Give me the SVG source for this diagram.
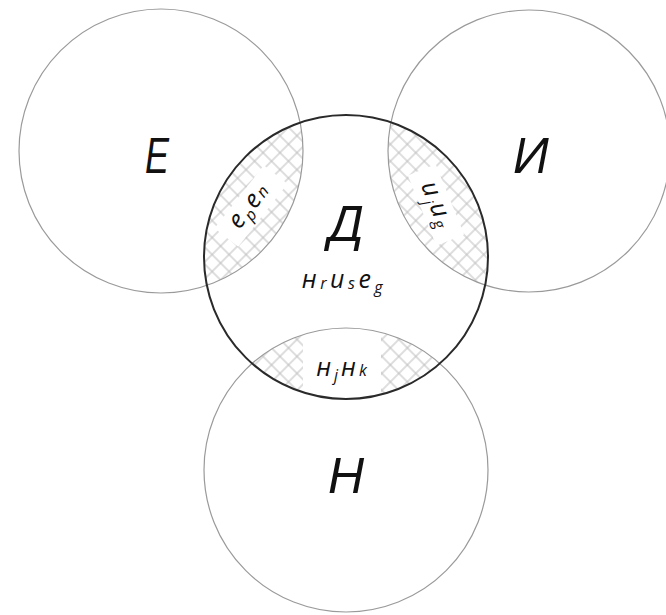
<svg xmlns="http://www.w3.org/2000/svg" width="666" height="615" viewBox="0 0 666 615">
<style>
.thin{fill:none;stroke:#9a9a9a;stroke-width:1.2}
.thick{fill:none;stroke:#2a2a2a;stroke-width:2}
.big{font-family:"Liberation Sans",Arial,sans-serif;font-style:italic;font-size:50px;fill:#111}
.sm{font-family:"Open Sans","Noto Sans","Liberation Sans",sans-serif;font-style:italic;font-size:25px;fill:#111;letter-spacing:2px}
.sub{font-size:16px}
</style>
<defs>
<pattern id="hatch" patternUnits="userSpaceOnUse" width="12" height="12" patternTransform="rotate(45)">
<path d="M0 6H12M6 0V12" stroke="#bdbdbd" stroke-width="1" fill="none"/>
</pattern>
<clipPath id="cD"><circle cx="346" cy="257" r="142"/></clipPath>
<clipPath id="cE"><circle cx="161" cy="151" r="142"/></clipPath>
<clipPath id="cI"><circle cx="529" cy="151" r="141"/></clipPath>
<clipPath id="cH"><circle cx="346" cy="470" r="142"/></clipPath>
</defs>
<g id="hatches">
<g clip-path="url(#cD)"><g clip-path="url(#cE)">
<rect x="190" y="100" width="130" height="210" fill="url(#hatch)"/>
<rect x="-40" y="-15" width="80" height="30" fill="#fff" transform="translate(251,206) rotate(-52)"/>
</g></g>
<g clip-path="url(#cD)"><g clip-path="url(#cI)">
<rect x="370" y="100" width="130" height="210" fill="url(#hatch)"/>
<rect x="-38" y="-15" width="76" height="30" fill="#fff" transform="translate(436,205) rotate(68)"/>
</g></g>
<g clip-path="url(#cD)"><g clip-path="url(#cH)">
<rect x="190" y="310" width="320" height="100" fill="url(#hatch)"/>
<rect x="303" y="320" width="78" height="90" fill="#fff"/>
</g></g>
</g>
<g id="node-E">
<circle class="thin" cx="161" cy="151" r="142"/>
<text class="big" transform="translate(157,173) scale(0.72,1)" text-anchor="middle">Е</text>
</g>
<g id="node-I">
<circle class="thin" cx="529" cy="151" r="141"/>
<text class="big" x="531" y="173" text-anchor="middle">И</text>
</g>
<g id="node-H">
<circle class="thin" cx="346" cy="470" r="142"/>
<text class="big" x="346" y="493" text-anchor="middle">Н</text>
</g>
<g id="node-D">
<circle class="thick" cx="346" cy="257" r="142"/>
<text class="big" x="346" y="241" text-anchor="middle">Д</text>
<text class="sm" x="344" y="288" text-anchor="middle" style="letter-spacing:3.5px">н<tspan class="sub" dy="1">r</tspan><tspan dy="-1">и</tspan><tspan class="sub" dy="1">s</tspan><tspan dy="-1">е</tspan><tspan class="sub" dy="5">g</tspan></text>
</g>
<g id="lens-labels">
<text class="sm" transform="translate(255,210) rotate(-52)" text-anchor="middle">е<tspan class="sub" dy="5">p</tspan><tspan dy="-5">е</tspan><tspan class="sub" dy="0">n</tspan></text>
<text class="sm" transform="translate(430,208) rotate(68)" text-anchor="middle">и<tspan class="sub" dy="6">j</tspan><tspan dy="-6">и</tspan><tspan class="sub" dy="3">g</tspan></text>
<text class="sm" x="343" y="376" text-anchor="middle" style="letter-spacing:3px">н<tspan class="sub" dy="5">j</tspan><tspan dy="-5">н</tspan><tspan class="sub" dy="0">k</tspan></text>
</g>
</svg>
